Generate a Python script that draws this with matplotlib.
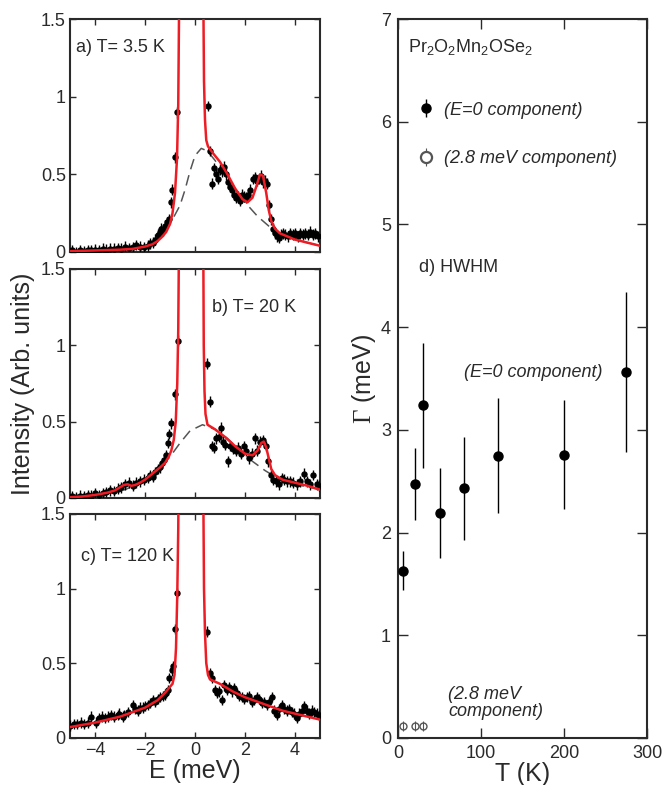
import matplotlib
matplotlib.use('Agg')
import matplotlib.pyplot as plt
from matplotlib.legend_handler import HandlerErrorbar

plt.rcParams['font.family'] = ['Liberation Sans', 'DejaVu Sans']
plt.rcParams['mathtext.fontset'] = 'custom'
plt.rcParams['mathtext.rm'] = 'Liberation Serif'
plt.rcParams['mathtext.sf'] = 'Liberation Sans'
plt.rcParams['mathtext.it'] = 'Liberation Sans:italic'

# ---- panel a) T = 3.5 K ----
Ea = [-4.9, -4.75, -4.6, -4.45, -4.3, -4.15, -4.0, -3.85, -3.7, -3.55, -3.4, -3.25, -3.1, -2.95, -2.8,
      -2.65, -2.5, -2.35, -2.2, -2.05, -1.9, -1.8, -1.7, -1.6, -1.5, -1.42, -1.35, -1.27, -1.2, -1.12,
      -1.05, -0.98, -0.91, -0.82, -0.72, 0.52, 0.6, 0.68, 0.76, 0.84, 0.92, 1.0, 1.08, 1.16, 1.24, 1.32,
      1.4, 1.48, 1.56, 1.64, 1.72, 1.8, 1.88, 1.96, 2.04, 2.12, 2.2, 2.3, 2.38, 2.46, 2.54, 2.62, 2.7,
      2.78, 2.86, 2.95, 3.04, 3.12, 3.2, 3.28, 3.36, 3.44, 3.52, 3.6, 3.7, 3.8, 3.9, 4.0, 4.1, 4.2, 4.3,
      4.4, 4.5, 4.6, 4.7, 4.8, 4.9]
Ia = [0.01, 0.0, 0.01, 0.005, 0.01, 0.01, 0.015, 0.01, 0.02, 0.015, 0.02, 0.02, 0.025, 0.02, 0.035,
      0.025, 0.03, 0.045, 0.035, 0.03, 0.04, 0.055, 0.06, 0.08, 0.11, 0.13, 0.15, 0.14, 0.17, 0.19,
      0.21, 0.32, 0.40, 0.61, 0.90, 0.94, 0.65, 0.44, 0.54, 0.50, 0.47, 0.53, 0.52, 0.55, 0.50, 0.45,
      0.42, 0.40, 0.37, 0.35, 0.36, 0.33, 0.37, 0.36, 0.35, 0.37, 0.40, 0.47, 0.48, 0.46, 0.47, 0.49, 0.45,
      0.46, 0.44, 0.30, 0.21, 0.15, 0.12, 0.10, 0.09, 0.11, 0.12, 0.11, 0.10, 0.12, 0.11, 0.12, 0.10, 0.12, 0.11,
      0.12, 0.11, 0.13, 0.11, 0.12, 0.10]
fit_a_E = [-5, -4, -3, -2.5, -2, -1.7, -1.5, -1.3, -1.15, -1.0, -0.9, -0.8, -0.72, -0.67, -0.63, -0.15,
           0.33, 0.36, 0.40, 0.45, 0.52, 0.7, 1.0, 1.3, 1.6, 1.9, 2.1, 2.3, 2.45, 2.6, 2.72, 2.85, 2.95,
           3.05, 3.2, 3.4, 3.7, 4.0, 4.5, 5.0]
fit_a_I = [0.005, 0.01, 0.015, 0.02, 0.035, 0.05, 0.07, 0.1, 0.13, 0.18, 0.25, 0.38, 0.6, 0.95, 1.7, 30,
           1.7, 1.1, 0.85, 0.72, 0.68, 0.64, 0.58, 0.5, 0.41, 0.34, 0.32, 0.35, 0.42, 0.5, 0.49, 0.38, 0.27,
           0.2, 0.15, 0.12, 0.1, 0.08, 0.06, 0.04]
bg_a_E = [-5, -4, -3, -2, -1.5, -1.2, -1.0, -0.8, -0.6, -0.4, -0.2, 0.0, 0.25, 0.5, 0.8, 1.2, 1.6,
          2.0, 2.5, 3.0, 3.5, 4.0, 4.5, 5.0]
bg_a_I = [0.005, 0.01, 0.02, 0.04, 0.08, 0.13, 0.18, 0.24, 0.3, 0.4, 0.52, 0.62, 0.667, 0.65, 0.59,
          0.5, 0.41, 0.32, 0.23, 0.16, 0.11, 0.08, 0.06, 0.04]

# ---- panel b) T = 20 K ----
Eb = [-4.9, -4.75, -4.6, -4.45, -4.3, -4.15, -4.0, -3.85, -3.7, -3.55, -3.4, -3.25, -3.1, -2.95, -2.8,
      -2.65, -2.5, -2.35, -2.2, -2.05, -1.9, -1.8, -1.7, -1.6, -1.5, -1.42, -1.32, -1.24, -1.16, -1.1,
      -1.03, -0.96, -0.82, -0.69, 0.48, 0.58, 0.68, 0.76, 0.85, 0.94, 1.02, 1.12, 1.21, 1.32, 1.41, 1.52,
      1.63, 1.73, 1.84, 1.95, 2.05, 2.16, 2.27, 2.39, 2.48, 2.59, 2.72, 2.82, 2.93, 3.02, 3.13, 3.23,
      3.34, 3.46, 3.57, 3.69, 3.8, 3.93, 4.06, 4.2, 4.36, 4.46, 4.6, 4.73, 4.87, 4.97]
Ib = [0.01, 0.005, 0.015, 0.01, 0.02, 0.015, 0.03, 0.02, 0.03, 0.04, 0.05, 0.045, 0.06, 0.07, 0.09,
      0.1, 0.08, 0.1, 0.11, 0.12, 0.13, 0.15, 0.14, 0.17, 0.19, 0.2, 0.23, 0.25, 0.28, 0.36,
      0.42, 0.49, 0.68, 1.03, 0.88, 0.63, 0.34, 0.33, 0.39, 0.40, 0.46, 0.37, 0.35, 0.24, 0.34, 0.32,
      0.31, 0.33, 0.29, 0.34, 0.31, 0.26, 0.29, 0.39, 0.31, 0.37, 0.38, 0.34, 0.24, 0.15, 0.12, 0.11,
      0.09, 0.13, 0.12, 0.11, 0.11, 0.10, 0.09, 0.11, 0.16, 0.11, 0.09, 0.15, 0.09, 0.08]
fit_b_E = [-5, -4.5, -4, -3.5, -3.2, -3.0, -2.85, -2.7, -2.55, -2.4, -2.2, -2.0, -1.7, -1.4, -1.2, -1.05,
           -0.95, -0.85, -0.77, -0.71, -0.67, -0.64, -0.15, 0.33, 0.35, 0.38, 0.42, 0.5, 0.8, 1.2, 1.6,
           2.0, 2.3, 2.5, 2.65, 2.75, 2.85, 2.95, 3.05, 3.2, 3.5, 4.0, 4.5, 5.0]
fit_b_I = [0.005, 0.01, 0.02, 0.035, 0.05, 0.07, 0.085, 0.09, 0.08, 0.085, 0.1, 0.12, 0.16, 0.2, 0.23, 0.27,
           0.31, 0.38, 0.5, 0.75, 1.1, 1.7, 30, 1.7, 1.0, 0.7, 0.55, 0.48, 0.45, 0.4, 0.34,
           0.29, 0.28, 0.31, 0.36, 0.37, 0.33, 0.26, 0.19, 0.15, 0.12, 0.1, 0.08, 0.055]
bg_b_E = [-5, -4, -3, -2.8, -2, -1.5, -1.0, -0.6, -0.2, 0.3, 0.8, 1.3, 1.8, 2.3, 2.8, 3.3, 4.0, 5.0]
bg_b_I = [0.005, 0.015, 0.045, 0.055, 0.11, 0.18, 0.27, 0.36, 0.44, 0.48, 0.45, 0.39, 0.31, 0.24,
          0.18, 0.13, 0.09, 0.055]

# ---- panel c) T = 120 K ----
Ec = [-4.99, -4.85, -4.72, -4.58, -4.45, -4.3, -4.18, -3.98, -3.85, -3.71, -3.6, -3.5, -3.37, -3.24,
      -3.1, -3.04, -2.9, -2.84, -2.7, -2.5, -2.4, -2.3, -2.2, -2.1, -2.0, -1.9, -1.8, -1.7, -1.6, -1.5,
      -1.4, -1.3, -1.22, -1.16, -1.1, -1.03, -0.94, -0.87, -0.8, -0.72, 0.49, 0.6, 0.69, 0.8, 0.87, 0.96,
      1.07, 1.16, 1.27, 1.37, 1.47, 1.57, 1.67, 1.77, 1.87, 1.97, 2.07, 2.17, 2.27, 2.37, 2.47, 2.57,
      2.67, 2.77, 2.87, 2.97, 3.07, 3.17, 3.27, 3.37, 3.47, 3.57, 3.67, 3.77, 3.87, 3.97, 4.07, 4.17,
      4.27, 4.37, 4.47, 4.57, 4.67, 4.77, 4.87, 4.97]
Ic = [0.08, 0.09, 0.09, 0.10, 0.09, 0.10, 0.14, 0.10, 0.13, 0.14, 0.13, 0.14, 0.15, 0.14, 0.15, 0.16,
      0.14, 0.15, 0.17, 0.22, 0.19, 0.18, 0.20, 0.20, 0.21, 0.22, 0.23, 0.25, 0.24, 0.26, 0.27, 0.28,
      0.29, 0.30, 0.32, 0.40, 0.45, 0.48, 0.73, 0.97, 0.71, 0.43, 0.40, 0.32, 0.30, 0.31, 0.25, 0.35,
      0.32, 0.34, 0.31, 0.33, 0.30, 0.28, 0.27, 0.26, 0.27, 0.28, 0.24, 0.25, 0.27, 0.26, 0.23, 0.24,
      0.22, 0.24, 0.27, 0.18, 0.15, 0.19, 0.22, 0.19, 0.18, 0.19, 0.17, 0.16, 0.13, 0.16, 0.18, 0.21,
      0.18, 0.16, 0.18, 0.17, 0.16, 0.15]
fit_c_E = [-5, -4.5, -4, -3.5, -3, -2.5, -2, -1.5, -1.2, -1.0, -0.9, -0.82, -0.76, -0.71, -0.67, -0.64,
           -0.15, 0.33, 0.36, 0.4, 0.45, 0.52, 0.6, 1.0, 1.5, 2.0, 2.5, 3.0, 3.5, 4.0, 4.5, 5.0]
fit_c_I = [0.07, 0.085, 0.1, 0.12, 0.14, 0.17, 0.2, 0.25, 0.3, 0.34, 0.36, 0.42, 0.6, 0.95, 1.4, 2.0,
           30, 1.7, 1.0, 0.7, 0.5, 0.42, 0.39, 0.36, 0.31, 0.27, 0.24, 0.21, 0.18, 0.16, 0.14, 0.12]

# ---- panel d) HWHM vs temperature ----
T_main = [6, 20, 30, 50, 80, 120, 200, 275]
G_main = [1.63, 2.47, 3.24, 2.19, 2.43, 2.75, 2.76, 3.56]
G_main_err = [0.19, 0.35, 0.61, 0.44, 0.50, 0.56, 0.53, 0.78]
T_side = [6, 20, 30]
G_side = [0.12, 0.12, 0.12]
G_side_err = [0.05, 0.05, 0.05]

RED = '#ee1c24'
INK = '#2a2a2a'
W, H = 664, 785

fig = plt.figure(figsize=(W / 100, H / 100), dpi=100)


def box(left, top, right, bottom):
    return [left / W, 1 - bottom / H, (right - left) / W, (bottom - top) / H]


ax_a = fig.add_axes(box(70, 19, 320, 252))
ax_b = fig.add_axes(box(70, 269, 320, 498))
ax_c = fig.add_axes(box(70, 514, 320, 737.5))
ax_d = fig.add_axes(box(398, 19, 647, 738))

panels = [
    (ax_a, Ea, Ia, fit_a_E, fit_a_I, bg_a_E, bg_a_I, 'a) T= 3.5 K', (0.024, 0.876)),
    (ax_b, Eb, Ib, fit_b_E, fit_b_I, bg_b_E, bg_b_I, 'b) T= 20 K', (0.567, 0.831)),
    (ax_c, Ec, Ic, fit_c_E, fit_c_I, None, None, 'c) T= 120 K', (0.044, 0.809)),
]

for ax, E, I, fE, fI, bE, bI, label, pos in panels:
    if bE is not None:
        ax.plot(bE, bI, color='#555555', lw=1.1, dashes=(7, 4), zorder=2)
    ax.errorbar(E, I, yerr=0.035, fmt='o', color='black', ms=3.6, elinewidth=1.0,
                capsize=0, zorder=3)
    ax.plot(fE, fI, color=RED, lw=1.8, zorder=4)
    ax.set_xlim(-5, 5)
    ax.set_ylim(0, 1.5)
    ax.set_xticks([-4, -2, 0, 2, 4])
    ax.set_yticks([0, 0.5, 1, 1.5])
    ax.set_yticklabels(['0', '0.5', '1', '1.5'])
    ax.tick_params(direction='in', top=True, right=True, length=4, width=1,
                   labelsize=13, labelcolor=INK, color=INK, pad=3)
    ax.text(pos[0], pos[1], label, transform=ax.transAxes, fontsize=13,
            color=INK, va='center', ha='left')
    for s in ax.spines.values():
        s.set_linewidth(1.5)
        s.set_color(INK)

ax_a.tick_params(labelbottom=False)
ax_b.tick_params(labelbottom=False)
ax_b.set_ylabel('Intensity (Arb. units)', fontsize=18, color=INK, labelpad=4)
ax_c.set_xlabel('E (meV)', fontsize=18, color=INK, labelpad=0)

# right panel
main = ax_d.errorbar(T_main, G_main, yerr=G_main_err, fmt='o', color='black', ms=6.5,
                     elinewidth=1.0, capsize=0, zorder=3)
side = ax_d.errorbar(T_side, G_side, yerr=G_side_err, fmt='o', color='#555555', mfc='white',
                     mec='#555555', ms=5, mew=1.0, elinewidth=0.8, capsize=0, zorder=3)
# the bar of the open symbols shows through the marker
for coll in side.lines[2]:
    coll.set_zorder(5)
ax_d.set_xlim(0, 300)
ax_d.set_ylim(0, 7)
ax_d.set_xticks([0, 100, 200, 300])
ax_d.set_yticks(range(8))
ax_d.tick_params(direction='in', top=True, right=True, length=7, width=1,
                 labelsize=13, labelcolor=INK, color=INK, pad=5)
for s in ax_d.spines.values():
    s.set_linewidth(1.5)
    s.set_color(INK)
ax_d.set_xlabel('T (K)', fontsize=18, color=INK, labelpad=0)
ax_d.set_ylabel(r'$\mathrm{\Gamma}$ (meV)', fontsize=18, color=INK, labelpad=2)


def bigger_open(leg_artist, orig):
    leg_artist.update_from(orig)
    if hasattr(leg_artist, 'set_markersize'):
        leg_artist.set_markersize(8)
        leg_artist.set_markeredgewidth(1.6)


ax_d.legend([main, side], ['(E=0 component)', '(2.8 meV component)'], loc='upper left',
            bbox_to_anchor=(0.085, 0.885), frameon=False,
            prop={'style': 'italic', 'size': 13}, labelspacing=1.75, handlelength=0.8,
            handletextpad=0.6, borderpad=0, borderaxespad=0, labelcolor=INK,
            handler_map={side: HandlerErrorbar(update_func=bigger_open)})

ax_d.text(0.04, 0.961, r'Pr$_\mathsf{2}$O$_\mathsf{2}$Mn$_\mathsf{2}$OSe$_\mathsf{2}$',
          transform=ax_d.transAxes, fontsize=13, color=INK, va='center', ha='left')
ax_d.text(0.085, 0.654, 'd) HWHM', transform=ax_d.transAxes, fontsize=13, color=INK,
          va='center', ha='left')
ax_d.text(0.265, 0.509, '(E=0 component)', transform=ax_d.transAxes, fontsize=13,
          style='italic', color=INK, va='center', ha='left')
ax_d.text(0.202, 0.049, '(2.8 meV\ncomponent)', transform=ax_d.transAxes, fontsize=13,
          style='italic', color=INK, va='center', ha='left', linespacing=1.0)

fig.savefig('out.png', dpi=100)
